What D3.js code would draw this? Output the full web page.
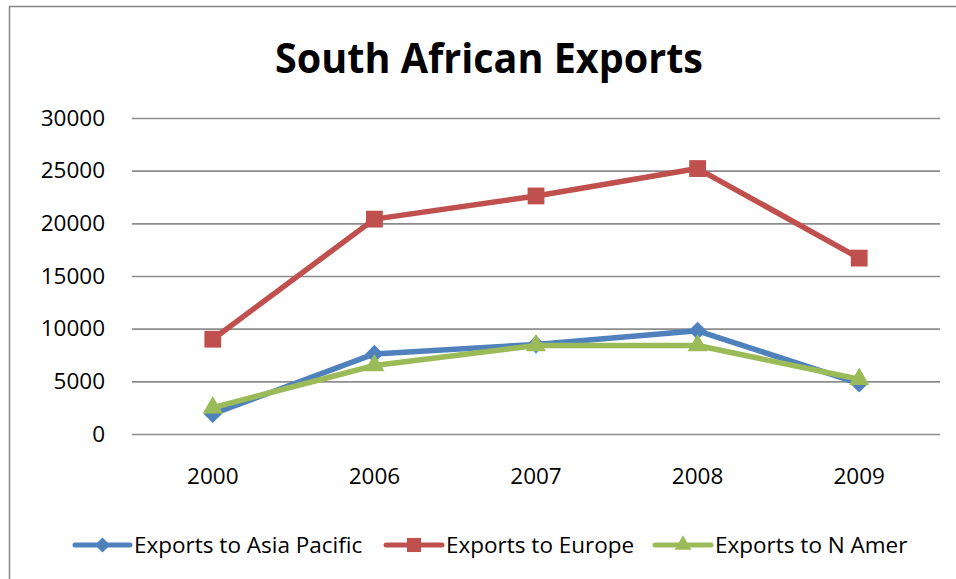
<!DOCTYPE html>
<html>
<head>
<meta charset="utf-8">
<script src="https://cdn.jsdelivr.net/npm/d3@7"></script>
<style>
  html, body { margin: 0; padding: 0; background: #fff; }
  svg { display: block; }
  text { font-family: "Open Sans", sans-serif; fill: #000; }
</style>
</head>
<body>
<svg id="chart" width="956" height="579"></svg>
<script>
// Chart data
const years = ["2000", "2006", "2007", "2008", "2009"];
const asiaPacific = [1900, 7600, 8500, 9800, 4800];
const europe = [9000, 20400, 22600, 25200, 16700];
const nAmer = [2500, 6500, 8400, 8400, 5200];
const yTicks = [0, 5000, 10000, 15000, 20000, 25000, 30000];
const seriesNames = ["Exports to Asia Pacific", "Exports to Europe", "Exports to N Amer"];

const series = [
  { name: seriesNames[0], values: asiaPacific, color: "#4F81BD", marker: d3.symbolDiamond2, size: 210 },
  { name: seriesNames[1], values: europe, color: "#C0504D", marker: d3.symbolSquare2, size: 360 },
  { name: seriesNames[2], values: nAmer, color: "#9BBB59", marker: d3.symbolTriangle2, size: 290 }
];

const svg = d3.select("#chart");

// Outer frame
svg.append("rect")
  .attr("x", 9.5).attr("y", 6.5)
  .attr("width", 960).attr("height", 600)
  .attr("fill", "none").attr("stroke", "#868686").attr("stroke-width", 1.5);

const plot = { left: 132, right: 940, top: 118, bottom: 434 };

const x = d3.scaleBand().domain(years).range([plot.left, plot.right]);
const y = d3.scaleLinear().domain([0, 30000]).range([plot.bottom, plot.top]);

// Title
svg.append("text")
  .attr("x", 489).attr("y", 72.5)
  .attr("text-anchor", "middle")
  .attr("font-family", "Lato, sans-serif")
  .attr("font-size", 42).attr("font-weight", "bold")
  .attr("textLength", 428).attr("lengthAdjust", "spacingAndGlyphs")
  .text("South African Exports");

// Horizontal gridlines and value labels
const yAxis = d3.axisLeft(y).tickValues(yTicks).tickSize(-(plot.right - plot.left)).tickPadding(27).tickFormat(d3.format("d"));
const gy = svg.append("g").attr("transform", `translate(${plot.left},0)`).call(yAxis);
gy.select(".domain").remove();
gy.selectAll(".tick line").attr("stroke", "#8c8c8c").attr("stroke-width", 1.6);
gy.selectAll(".tick text").attr("font-size", 22.5).attr("font-family", "'Open Sans', sans-serif").attr("fill", "#000");

// Category labels
const xAxis = d3.axisBottom(x).tickSize(0).tickPadding(34);
const gx = svg.append("g").attr("transform", `translate(0,${plot.bottom})`).call(xAxis);
gx.select(".domain").remove();
gx.selectAll(".tick text").attr("font-size", 22.5).attr("font-family", "'Open Sans', sans-serif").attr("fill", "#000");

// Lines and markers
const line = d3.line().x((d, i) => x(years[i]) + x.bandwidth() / 2).y(d => y(d));

series.forEach(s => {
  svg.append("path")
    .datum(s.values)
    .attr("d", line)
    .attr("fill", "none")
    .attr("stroke", s.color)
    .attr("stroke-width", 5.5)
    .attr("stroke-linejoin", "round");
  svg.selectAll(null)
    .data(s.values)
    .enter().append("path")
    .attr("d", d3.symbol().type(s.marker).size(s.size))
    .attr("transform", (d, i) => `translate(${x(years[i]) + x.bandwidth() / 2},${y(d)})`)
    .attr("fill", s.color);
});

// Legend
const legendItems = [
  { x0: 75, x1: 130 },
  { x0: 386, x1: 442 },
  { x0: 655, x1: 711 }
];
const ly = 545;
series.forEach((s, i) => {
  const it = legendItems[i];
  svg.append("line")
    .attr("x1", it.x0).attr("x2", it.x1).attr("y1", ly).attr("y2", ly)
    .attr("stroke", s.color).attr("stroke-width", 5).attr("stroke-linecap", "round");
  svg.append("path")
    .attr("d", d3.symbol().type(s.marker).size(s.size * 0.7))
    .attr("transform", `translate(${(it.x0 + it.x1) / 2},${ly})`)
    .attr("fill", s.color);
  svg.append("text")
    .attr("x", it.x1 + 4).attr("y", ly + 7.5)
    .attr("font-size", 22.5)
    .text(s.name);
});
</script>
</body>
</html>
